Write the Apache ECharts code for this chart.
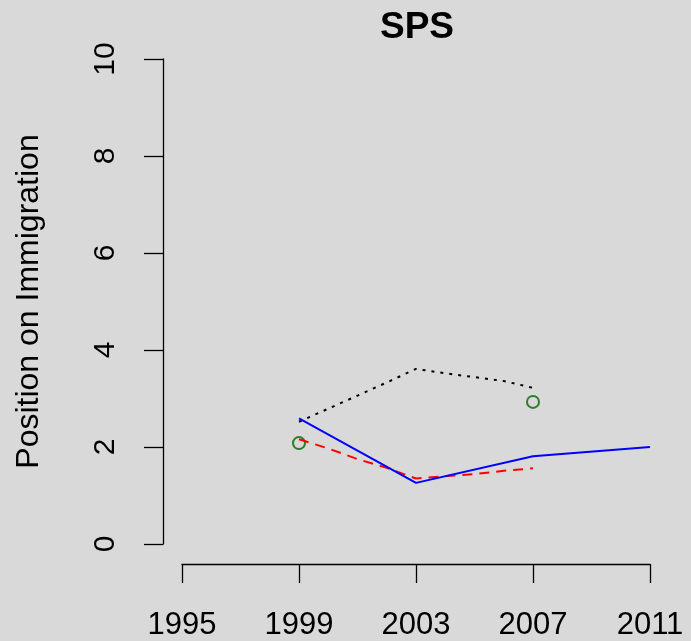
<!DOCTYPE html>
<html>
<head>
<meta charset="utf-8">
<script src="https://cdn.jsdelivr.net/npm/echarts@6/dist/echarts.min.js"></script>
<style>
html,body{margin:0;padding:0;background:#d9d9d9;}
#c{width:691px;height:641px;}
</style>
</head>
<body>
<div id="c"></div>
<script>
var title = "SPS";
var yName = "Position on Immigration";
var xTicks = [1995, 1999, 2003, 2007, 2011];
var yTicks = [0, 2, 4, 6, 8, 10];

var blueYears = [1999, 2003, 2007, 2011];
var blueValues = [2.59, 1.26, 1.81, 2.0];

var blackYears = [1999, 2000, 2001, 2002, 2003, 2004, 2005, 2006, 2007];
var blackValues = [2.52, 2.79, 3.06, 3.33, 3.61, 3.52, 3.44, 3.36, 3.22];

var redYears = [1999, 2000, 2001, 2002, 2003, 2004, 2005, 2006, 2007];
var redValues = [2.16, 1.97, 1.75, 1.57, 1.35, 1.40, 1.44, 1.51, 1.56];

var greenYears = [1999, 2007];
var greenValues = [2.08, 2.93];

function pairs(xs, ys){ return xs.map(function(x,i){ return [x, ys[i]]; }); }

var font = "Liberation Sans, Arial, sans-serif";
var chart = echarts.init(document.getElementById('c'));
chart.setOption({
  backgroundColor: '#d9d9d9',
  animation: false,
  title: {
    text: title, left: 412, top: 4, textAlign: 'center',
    textStyle: {fontFamily: font, fontWeight: 'bold', fontSize: 37, color: '#000'}
  },
  grid: {left: 182, right: 41, top: 59, bottom: 96, containLabel: false},
  xAxis: {
    type: 'value', min: xTicks[0], max: xTicks[xTicks.length-1], interval: 4,
    offset: 20,
    axisLine: {show: true, onZero: false, lineStyle: {color: '#000', width: 1.3}},
    axisTick: {show: true, length: 19, inside: false, lineStyle: {color: '#000', width: 1.3}},
    axisLabel: {fontFamily: font, fontSize: 31, color: '#000', margin: 46,
      formatter: function(v){ return String(v); }},
    splitLine: {show: false}
  },
  yAxis: {
    type: 'value', min: yTicks[0], max: yTicks[yTicks.length-1], interval: 2,
    offset: 19,
    name: yName, nameLocation: 'middle', nameGap: 118, nameRotate: 90,
    nameTextStyle: {fontFamily: font, fontSize: 32, color: '#000'},
    axisLine: {show: true, onZero: false, lineStyle: {color: '#000', width: 1.3}},
    axisTick: {show: true, length: 19, inside: false, lineStyle: {color: '#000', width: 1.3}},
    axisLabel: {fontFamily: font, fontSize: 30, color: '#000', rotate: 90, margin: 42},
    splitLine: {show: false}
  },
  series: [
    {type: 'line', data: pairs(blackYears, blackValues), symbol: 'none', clip: false,
     lineStyle: {color: '#000', width: 2, type: [3, 6]}},
    {type: 'line', data: pairs(redYears, redValues), symbol: 'none', clip: false,
     lineStyle: {color: '#ff0000', width: 2, type: [10, 7]}},
    {type: 'line', data: pairs(blueYears, blueValues), symbol: 'none', clip: false,
     lineStyle: {color: '#0000ff', width: 2}},
    {type: 'scatter', data: pairs(greenYears, greenValues), symbol: 'circle', symbolSize: 12,
     itemStyle: {color: 'rgba(0,0,0,0)', borderColor: '#006400', borderWidth: 2}}
  ]
});
</script>
</body>
</html>
